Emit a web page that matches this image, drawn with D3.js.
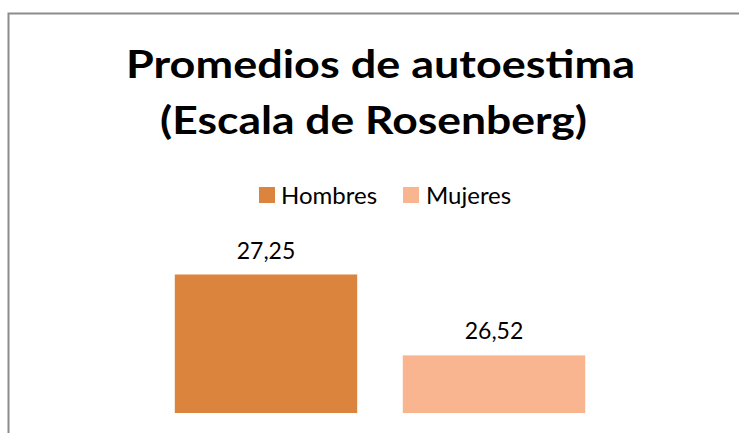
<!DOCTYPE html>
<html>
<head>
<meta charset="utf-8">
<script src="https://cdn.jsdelivr.net/npm/d3@7"></script>
<style>
  html, body { margin: 0; padding: 0; background: #fff; }
  svg { display: block; }
</style>
</head>
<body>
<svg id="chart" width="739" height="433"></svg>
<script>
const titleLines = ["Promedios de autoestima", "(Escala de Rosenberg)"];
const series = ["Hombres", "Mujeres"];
const values = [27.25, 26.52];
const labels = ["27,25", "26,52"];
const colors = ["#DB843D", "#F8B590"];
const yDomain = [26, 27.5];

const svg = d3.select("#chart");
const font = "Lato, 'Open Sans', sans-serif";

// frame
svg.append("path")
  .attr("d", "M8.5,433 V13.5 H739")
  .attr("fill", "none")
  .attr("stroke", "#8c8c8c")
  .attr("stroke-width", 2);

// title
const titleSpec = [{x: 126, y: 78, w: 509}, {x: 160, y: 134, w: 427}];
svg.selectAll("text.title").data(titleLines).join("text")
  .attr("class", "title")
  .attr("x", (d, i) => titleSpec[i].x)
  .attr("y", (d, i) => titleSpec[i].y)
  .attr("textLength", (d, i) => titleSpec[i].w)
  .attr("lengthAdjust", "spacingAndGlyphs")
  .attr("font-family", font)
  .attr("font-weight", "bold")
  .attr("font-size", 39)
  .attr("fill", "#000")
  .text(d => d);

// scales
const x = d3.scaleBand().domain(series).range([152, 608]).paddingInner(0.2).paddingOuter(0.1);
const y = d3.scaleLinear().domain(yDomain).range([413, 413 - 1.5 * 110.8]);
const color = d3.scaleOrdinal().domain(series).range(colors);

// bars
svg.selectAll("rect.bar").data(series).join("rect")
  .attr("class", "bar")
  .attr("x", d => x(d))
  .attr("width", x.bandwidth())
  .attr("y", (d, i) => y(values[i]))
  .attr("height", (d, i) => y(yDomain[0]) - y(values[i]))
  .attr("fill", d => color(d));

// value labels
svg.selectAll("text.val").data(series).join("text")
  .attr("class", "val")
  .attr("x", d => x(d) + x.bandwidth() / 2)
  .attr("y", (d, i) => y(values[i]) - 16)
  .attr("text-anchor", "middle")
  .attr("font-family", font)
  .attr("font-size", 23)
  .attr("fill", "#000")
  .text((d, i) => labels[i]);

// legend
const legendX = [259, 403];
const lg = svg.selectAll("g.leg").data(series).join("g")
  .attr("class", "leg")
  .attr("transform", (d, i) => `translate(${legendX[i]},187)`);
lg.append("rect").attr("width", 16).attr("height", 16).attr("fill", d => color(d));
lg.append("text")
  .attr("x", (d, i) => i === 0 ? 22 : 23)
  .attr("y", 17)
  .attr("font-family", font)
  .attr("font-size", 24)
  .attr("fill", "#000")
  .text(d => d);
</script>
</body>
</html>
